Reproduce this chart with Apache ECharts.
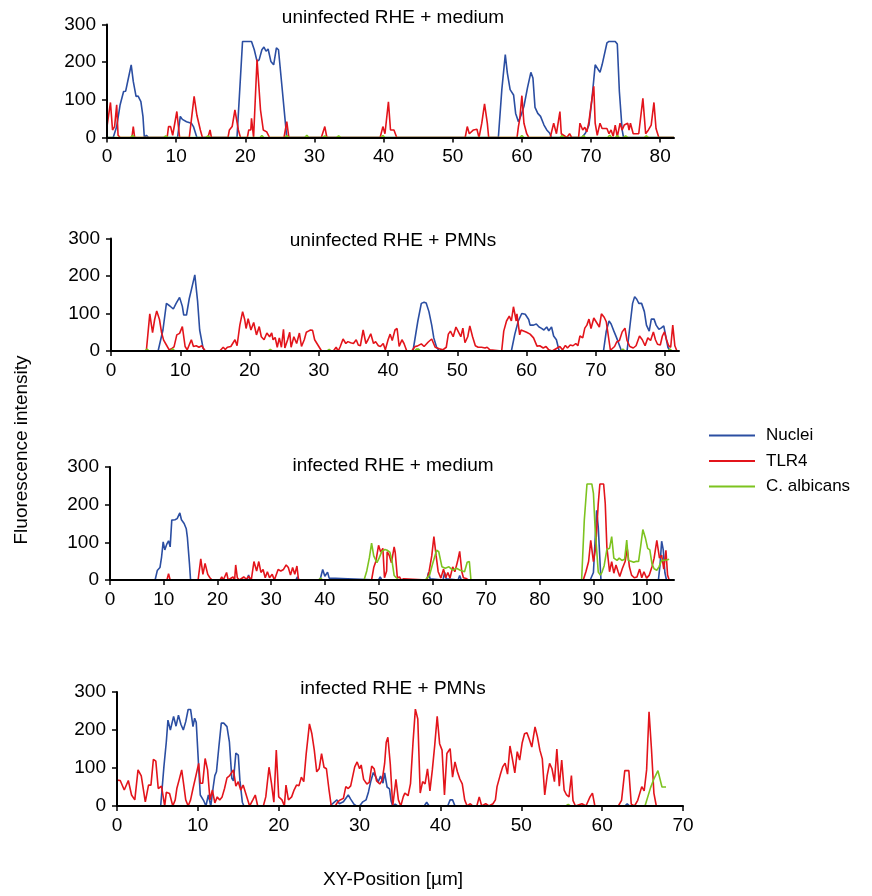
<!DOCTYPE html>
<html>
<head>
<meta charset="utf-8">
<script src="https://cdn.jsdelivr.net/npm/echarts@6/dist/echarts.min.js"></script>
<style>
html,body{margin:0;padding:0;background:#fff;}
#chart{width:872px;height:896px;}
</style>
</head>
<body>
<div id="chart"></div>
<script>
// ---------------- DATA ----------------
const panelTitles = ['uninfected RHE + medium', 'uninfected RHE + PMNs', 'infected RHE + medium', 'infected RHE + PMNs'];
const seriesNames = ['Nuclei', 'TLR4', 'C. albicans'];
const xMaxes = [82, 82, 105, 70];
const xTicks1 = [0, 10, 20, 30, 40, 50, 60, 70, 80];
const xTicks2 = [0, 10, 20, 30, 40, 50, 60, 70, 80];
const xTicks3 = [0, 10, 20, 30, 40, 50, 60, 70, 80, 90, 100];
const xTicks4 = [0, 10, 20, 30, 40, 50, 60, 70];
const yTicks = [0, 100, 200, 300];

// Panel 1: uninfected RHE + medium
const nuclei1 = [[0,0],[0.9,0],[1.4,29],[1.9,87],[2.4,122],[2.7,123],[3.1,158],[3.5,193],[3.8,149],[4.2,109],[4.5,110],[4.9,95],[5.2,56],[5.4,0],[5.7,6],[6.0,0],[10.2,0],[10.6,56],[10.9,48],[11.5,42],[12.2,38],[12.5,29],[13.0,0],[18.8,0],[19.2,127],[19.6,255],[20.9,255],[21.3,233],[21.7,202],[22.0,206],[22.4,233],[22.7,240],[23.0,229],[23.3,235],[23.7,202],[24.1,193],[24.5,238],[24.8,233],[25.0,238],[25.3,136],[25.8,38],[26.0,0],[56.6,0],[57.1,127],[57.6,220],[57.9,171],[58.3,127],[58.5,128],[58.8,113],[59.1,64],[59.5,42],[59.9,60],[60.3,83],[60.8,131],[61.3,173],[61.6,158],[61.9,80],[62.3,64],[62.7,56],[63.2,33],[63.6,20],[64.0,12],[64.3,0],[68.7,0],[69.2,12],[69.7,33],[70.1,96],[70.6,193],[70.8,193],[71.3,173],[71.6,193],[71.8,198],[72.3,251],[72.6,255],[73.5,255],[73.8,248],[74.1,122],[74.5,20],[74.7,0],[82,0]];
const tlr4_1 = [[0,29],[0.5,93],[0.8,20],[1.1,29],[1.4,87],[1.6,6],[1.9,0],[3.6,0],[3.8,29],[4.0,0],[8.7,0],[8.9,29],[9.2,29],[9.5,6],[10.1,69],[10.5,0],[11.9,0],[12.6,109],[13.0,59],[13.5,20],[13.8,0],[14.6,0],[14.9,20],[15.1,0],[17.5,0],[17.7,20],[18.1,29],[18.5,73],[19.0,20],[19.3,0],[20.3,0],[20.5,20],[20.8,20],[20.9,51],[21.2,0],[21.7,207],[21.9,205],[22.2,73],[22.6,20],[23.1,15],[23.5,0],[25.6,0],[26.0,42],[26.3,0],[31.0,0],[31.5,29],[31.8,0],[39.5,0],[39.9,29],[40.2,10],[40.7,95],[41.0,20],[41.5,20],[41.9,0],[46.5,0],[46.6,3],[46.8,0],[51.8,0],[52.1,29],[52.4,10],[53.0,20],[53.5,22],[53.8,0],[54.2,38],[54.6,89],[55.0,38],[55.2,0],[59.3,0],[59.5,29],[59.7,50],[60.0,111],[60.3,38],[60.7,10],[61.0,0],[64.1,0],[64.6,38],[65.0,10],[65.5,69],[65.7,10],[66.5,0],[66.9,10],[67.2,0],[68.2,0],[68.4,38],[68.8,20],[69.1,27],[69.4,15],[69.7,42],[70.0,85],[70.4,136],[70.6,38],[70.9,6],[71.3,38],[71.6,24],[72.3,24],[72.6,10],[72.9,20],[73.2,3],[73.5,33],[73.8,2],[74.2,38],[74.5,20],[74.8,33],[75.3,38],[75.5,20],[75.7,38],[76.1,10],[76.5,10],[76.9,10],[77.5,104],[77.9,10],[78.3,20],[78.7,33],[79.1,93],[79.4,24],[79.8,0],[82,0]];
const calb1 = [[0,0],[3.4,0],[3.7,6],[4.0,0],[8.2,0],[8.5,4],[8.8,0],[14.3,0],[14.6,4],[14.9,0],[22.1,0],[22.4,5],[22.7,0],[25.7,0],[26.0,5],[26.3,0],[28.6,0],[28.9,6],[29.2,0],[31.2,0],[31.5,4],[31.8,0],[33.2,0],[33.5,4],[33.8,0],[39.6,0],[39.9,5],[40.2,0],[59.7,0],[60.0,5],[60.3,0],[65.5,0],[65.8,5],[66.1,0],[68.6,0],[68.9,5],[69.2,0],[72.4,0],[72.7,6],[73.0,0],[73.5,0],[73.8,5],[74.1,0],[74.7,0],[75.0,4],[75.3,0],[77.7,0],[78.0,4],[78.3,0],[82,0]];

// Panel 2: uninfected RHE + PMNs
const nuclei2 = [[0,0],[6.8,0],[7.5,56],[8.0,127],[8.5,120],[9.0,112],[9.4,127],[9.9,143],[10.3,119],[10.5,96],[10.9,96],[11.3,140],[11.6,163],[12.1,203],[12.5,133],[12.8,56],[13.3,7],[13.6,0],[43.6,0],[44.0,46],[44.3,80],[44.8,127],[45.2,130],[45.5,128],[45.9,105],[46.3,69],[46.6,35],[47.0,10],[47.4,0],[57.8,0],[58.3,45],[58.8,80],[59.3,100],[59.8,98],[60.3,84],[60.5,69],[60.7,73],[61.0,69],[61.4,72],[61.8,64],[62.1,61],[62.5,56],[62.9,64],[63.2,54],[63.6,64],[63.9,40],[64.3,30],[64.7,0],[71.1,0],[71.5,53],[71.9,80],[72.2,72],[72.6,53],[73.0,35],[73.5,10],[73.7,0],[74.5,0],[75.0,80],[75.3,127],[75.6,145],[75.9,138],[76.2,127],[76.6,127],[77.0,105],[77.3,69],[77.7,53],[78.0,85],[78.4,85],[78.7,69],[79.1,58],[79.4,61],[79.8,67],[80.1,38],[80.4,10],[80.7,0],[82,0]];
const tlr4_2 = [[0,0],[1.4,0],[1.6,3],[1.8,0],[5.1,0],[5.6,99],[6.0,49],[6.3,84],[6.6,107],[7.0,84],[7.3,49],[7.6,29],[8.0,16],[8.4,3],[8.8,7],[9.1,11],[9.5,43],[9.9,47],[10.3,65],[10.7,12],[11.0,3],[11.6,30],[11.9,12],[12.3,14],[12.7,10],[13.1,14],[13.6,0],[15.7,0],[16.2,10],[16.5,4],[16.8,10],[17.3,12],[17.9,30],[18.2,14],[18.6,69],[19.0,105],[19.3,84],[19.5,60],[19.8,86],[20.2,56],[20.6,76],[21.0,43],[21.4,65],[21.7,38],[22.1,30],[22.5,48],[22.9,38],[23.2,48],[23.4,30],[23.7,36],[24.0,10],[24.3,35],[24.6,10],[24.9,58],[25.1,8],[25.5,30],[25.8,50],[26.0,10],[26.4,38],[26.8,20],[27.2,48],[27.5,12],[27.9,30],[28.2,50],[28.5,53],[28.8,56],[29.1,55],[29.4,30],[30.4,0],[32.1,0],[32.5,10],[32.8,0],[33.1,12],[33.5,32],[33.9,20],[34.2,25],[34.6,22],[35.0,20],[35.4,30],[35.7,16],[36.0,14],[36.4,56],[36.8,20],[37.1,30],[37.5,46],[37.9,20],[38.2,25],[38.6,14],[38.9,12],[39.3,20],[39.6,3],[40.0,30],[40.3,45],[40.6,28],[41.0,56],[41.3,60],[41.6,12],[42.0,30],[42.3,20],[42.7,0],[43.4,0],[43.9,12],[44.2,13],[44.8,19],[45.2,12],[45.8,24],[46.3,32],[46.8,10],[47.4,6],[47.9,3],[48.4,10],[48.7,45],[49.0,53],[49.4,38],[49.8,64],[50.1,53],[50.5,38],[50.8,61],[51.1,22],[51.5,38],[51.8,67],[52.2,38],[52.6,14],[53.0,10],[53.5,10],[54.0,8],[54.3,10],[54.7,3],[56.4,0],[56.7,53],[57.1,80],[57.5,93],[57.8,80],[58.1,118],[58.5,80],[58.6,99],[59.0,43],[59.2,56],[59.4,54],[60.0,50],[60.5,45],[61.0,35],[61.5,13],[61.9,14],[62.4,8],[62.8,12],[63.2,3],[63.7,0],[64.8,12],[65.2,3],[65.6,15],[65.9,8],[66.3,16],[66.7,14],[67.1,20],[67.4,14],[67.7,40],[68.1,35],[68.4,61],[68.7,69],[69.0,85],[69.3,60],[69.7,88],[70.1,76],[70.5,64],[70.8,99],[71.2,90],[71.5,78],[71.8,40],[72.1,2],[72.7,12],[73.0,24],[73.4,28],[73.8,51],[74.2,61],[74.5,28],[74.9,12],[75.4,8],[75.8,14],[76.3,40],[76.7,30],[77.1,14],[77.5,35],[77.9,28],[78.3,51],[78.6,30],[78.9,18],[79.3,16],[79.6,40],[79.9,51],[80.2,30],[80.5,14],[80.8,10],[81.1,69],[81.4,14],[81.7,0]];
const calb2 = [[0,0],[4.9,0],[5.2,5],[5.5,0],[8.6,0],[8.9,6],[9.2,0],[22.7,0],[23.0,4],[23.3,0],[31.2,0],[31.5,4],[31.8,0],[43.8,0],[44.1,5],[44.4,5],[44.7,0],[73.6,0],[73.9,5],[74.2,0],[80.4,0],[80.7,5],[81.0,0],[82,0]];

// Panel 3: infected RHE + medium
const nuclei3 = [[0,0],[8.4,0],[8.8,25],[9.3,33],[9.6,61],[9.9,101],[10.2,80],[10.6,96],[10.9,104],[11.2,88],[11.5,159],[11.8,155],[12.1,160],[12.5,163],[13.0,178],[13.3,160],[13.8,150],[14.2,136],[14.4,114],[14.8,42],[15.0,0],[25.5,0],[25.8,13],[26.1,0],[34.6,0],[34.9,8],[35.2,0],[39.1,0],[39.6,28],[40.0,10],[40.5,21],[40.8,5],[41.0,0],[50.0,0],[50.3,8],[50.6,0],[59.0,0],[59.3,20],[59.6,3],[62.0,0],[62.3,20],[62.6,3],[64.8,0],[65.1,12],[65.4,0],[89.4,0],[90.0,20],[90.6,185],[90.9,140],[91.4,0],[102.1,0],[102.4,40],[102.7,103],[103.0,80],[103.3,20],[103.6,0],[104.1,0]];
const tlr4_3 = [[0,0],[10.6,0],[10.9,17],[11.2,0],[16.4,0],[16.9,56],[17.3,15],[17.7,44],[18.2,15],[18.6,6],[19.0,0],[20.5,0],[20.8,8],[21.1,0],[21.7,20],[22.0,0],[22.9,8],[23.2,0],[23.4,40],[23.7,6],[24.1,0],[24.9,8],[25.4,2],[25.8,10],[26.3,0],[26.8,49],[27.3,24],[27.7,49],[28.1,20],[28.5,28],[28.9,6],[29.3,22],[29.7,6],[30.2,15],[30.6,0],[31.3,28],[31.8,24],[32.3,28],[32.8,40],[33.2,33],[33.6,13],[34.0,33],[34.4,15],[34.8,37],[35.1,0],[48.7,0],[49.1,33],[49.5,50],[50.0,92],[50.4,74],[50.8,84],[51.1,6],[51.5,24],[51.6,75],[52.0,65],[52.4,46],[52.9,88],[53.1,73],[53.5,6],[53.9,8],[54.2,0],[54.6,3],[54.9,0],[59.0,0],[59.4,22],[59.9,64],[60.3,115],[60.7,66],[61.1,22],[61.6,5],[62.1,29],[62.5,6],[62.9,20],[63.3,5],[63.8,35],[64.2,22],[64.7,49],[65.1,76],[65.5,22],[65.8,6],[66.3,4],[66.7,0],[88.1,0],[88.6,22],[89.1,49],[89.5,105],[90.0,49],[90.4,84],[90.9,203],[91.2,255],[91.9,255],[92.2,203],[92.5,88],[93.0,22],[93.4,49],[93.8,18],[94.2,40],[94.6,22],[94.9,9],[95.4,31],[95.9,49],[96.3,83],[96.7,35],[97.1,13],[97.6,6],[98.1,8],[98.6,29],[99.0,6],[99.4,22],[99.9,5],[100.4,13],[100.9,35],[101.3,58],[101.8,105],[102.3,58],[102.7,66],[103.1,29],[103.5,79],[103.8,13],[104.1,0]];
const calb3 = [[0,0],[38.8,0],[39.2,5],[39.6,0],[47.3,0],[47.8,24],[48.3,60],[48.7,98],[49.1,64],[49.7,46],[50.1,58],[50.6,76],[51.2,81],[51.6,79],[52.1,74],[52.5,51],[52.9,12],[53.3,6],[53.8,0],[58.7,0],[59.5,13],[60.0,40],[60.8,79],[61.2,75],[61.8,35],[62.4,31],[63.1,35],[63.8,26],[64.5,31],[65.2,26],[66.0,22],[66.5,47],[66.9,49],[67.2,0],[87.8,0],[88.3,159],[88.8,255],[89.7,255],[90.0,230],[90.3,141],[90.9,21],[91.3,13],[91.6,21],[92.0,38],[92.5,81],[93.0,84],[93.4,115],[93.8,58],[94.4,52],[94.8,58],[95.3,52],[95.8,55],[96.2,106],[96.5,52],[97.0,50],[97.5,47],[98.0,50],[98.4,49],[98.8,90],[99.2,134],[99.7,110],[100.1,84],[100.5,80],[100.9,43],[101.3,30],[101.8,26],[102.2,35],[102.7,52],[103.1,52],[103.6,53],[104.1,55]];

// Panel 4: infected RHE + PMNs
const nuclei4 = [[0,0],[5.4,0],[5.8,103],[6.1,169],[6.3,226],[6.6,200],[7.0,236],[7.3,210],[7.6,239],[7.9,215],[8.2,200],[8.5,222],[8.8,254],[9.1,254],[9.4,209],[9.6,231],[9.8,220],[10.1,103],[10.3,29],[10.7,15],[11.0,0],[11.3,29],[11.6,0],[11.9,50],[12.1,80],[12.3,90],[12.6,156],[12.9,218],[13.2,218],[13.6,209],[13.9,169],[14.2,73],[14.4,66],[14.7,139],[15.0,134],[15.2,68],[15.5,10],[15.7,0],[26.3,0],[26.7,7],[27.2,16],[27.5,6],[28.0,11],[28.6,29],[28.9,18],[29.3,5],[29.6,0],[30.0,0],[30.4,11],[30.8,16],[31.1,37],[31.4,66],[31.7,88],[32.0,77],[32.3,63],[32.6,79],[32.9,60],[33.1,87],[33.4,50],[33.7,45],[33.9,13],[34.1,0],[34.4,5],[34.7,0],[38.0,0],[38.3,10],[38.6,0],[40.9,0],[41.2,16],[41.5,16],[41.8,0],[62.8,0],[63.1,6],[63.4,0],[70,0]];
const tlr4_4 = [[0,68],[0.4,67],[0.9,42],[1.4,67],[1.8,29],[2.2,16],[2.6,95],[3.0,79],[3.5,11],[3.9,55],[4.2,55],[4.5,123],[4.8,118],[5.1,46],[5.5,52],[5.9,0],[6.1,36],[6.5,33],[6.9,0],[7.2,16],[7.4,46],[7.7,70],[8.0,95],[8.2,64],[8.5,16],[8.8,0],[9.1,16],[9.4,46],[9.7,74],[10.1,112],[10.3,60],[10.6,60],[10.9,125],[11.2,95],[11.5,16],[11.8,42],[12.1,8],[12.4,24],[12.7,16],[13.0,24],[13.3,46],[13.6,74],[13.9,79],[14.4,95],[14.7,52],[15.0,64],[15.3,42],[15.6,55],[16.4,0],[16.8,16],[17.1,29],[17.4,0],[18.1,0],[18.4,24],[18.8,102],[19.1,60],[19.4,10],[19.7,147],[20.0,24],[20.4,16],[20.7,0],[20.9,55],[21.2,16],[21.6,24],[21.9,42],[22.2,55],[22.5,53],[22.8,76],[23.1,64],[23.4,138],[23.8,216],[24.1,190],[24.4,147],[24.7,90],[25.0,98],[25.3,138],[25.6,102],[25.9,98],[26.2,46],[26.5,0],[27.0,0],[27.3,11],[27.6,16],[28.0,20],[28.3,51],[28.6,46],[28.9,53],[29.4,103],[29.7,116],[30.0,98],[30.2,108],[30.5,70],[30.9,58],[31.2,62],[31.5,105],[31.8,98],[32.1,66],[32.5,58],[32.8,68],[33.1,112],[33.3,168],[33.5,181],[33.8,110],[34.1,0],[34.5,70],[34.8,16],[35.1,0],[35.4,24],[35.6,34],[36.0,27],[36.3,59],[36.6,164],[36.9,255],[37.2,229],[37.5,34],[37.8,64],[38.1,58],[38.4,98],[38.7,40],[39.0,95],[39.3,161],[39.6,236],[39.9,164],[40.2,147],[40.5,29],[40.8,138],[41.2,151],[41.5,76],[41.8,116],[42.1,90],[42.4,71],[42.7,58],[43.0,16],[43.3,0],[43.7,6],[44.0,0],[44.5,0],[44.8,24],[45.1,0],[45.6,6],[46.0,0],[46.5,6],[46.8,16],[47.0,51],[47.4,82],[47.7,103],[48.0,113],[48.3,84],[48.6,158],[48.9,124],[49.2,87],[49.5,143],[49.8,121],[50.1,165],[50.4,190],[50.7,193],[51.0,175],[51.3,155],[51.5,182],[51.7,208],[52.0,182],[52.3,147],[52.6,124],[52.9,29],[53.2,80],[53.5,112],[53.8,98],[54.1,64],[54.4,150],[54.7,52],[55.0,121],[55.3,42],[55.6,29],[55.9,24],[56.2,80],[56.4,14],[56.7,0],[57.5,6],[58.0,0],[58.5,24],[58.8,34],[59.1,0],[62.0,0],[62.4,15],[62.8,93],[63.3,93],[63.6,5],[64.0,0],[64.4,15],[64.9,51],[65.2,40],[65.5,95],[65.8,248],[66.1,150],[66.4,34],[66.7,0],[67.2,0]];
const calb4 = [[0,0],[55.5,0],[55.8,4],[56.1,0],[65.3,0],[66.0,49],[66.4,71],[66.9,93],[67.1,93],[67.4,50],[67.9,50]];

// ---------------- CHART ----------------
const FONT = '"Liberation Sans", Arial, sans-serif';
const colors = ['#2B4EA2', '#E3141B', '#7DC31F'];
const panelData = [
  [nuclei1, tlr4_1, calb1],
  [nuclei2, tlr4_2, calb2],
  [nuclei3, tlr4_3, calb3],
  [nuclei4, tlr4_4, calb4]
];
const xTickSets = [xTicks1, xTicks2, xTicks3, xTicks4];
const gridBoxes = [
  {left: 107, top: 24.5, width: 567, height: 113},
  {left: 111, top: 238.5, width: 568, height: 112.5},
  {left: 110, top: 467, width: 564, height: 113},
  {left: 117, top: 692, width: 566, height: 114}
];
const titleY = [18, 241, 466, 689];

const chart = echarts.init(document.getElementById('chart'), null, {renderer: 'canvas'});

const axisLineStyle = {color: '#000', width: 2};
const tickLineStyle = {color: '#000', width: 1.5};
const labelStyle = {color: '#000', fontSize: 19, fontFamily: FONT};

const xAxes = [], yAxes = [], series = [], graphics = [];
gridBoxes.forEach((g, i) => {
  xAxes.push({
    gridIndex: i, type: 'value', min: 0, max: xMaxes[i], interval: 10, z: 5,
    axisLine: {show: true, onZero: false, lineStyle: axisLineStyle},
    axisTick: {show: true, length: 5, lineStyle: tickLineStyle, customValues: xTickSets[i]},
    axisLabel: Object.assign({margin: 10, customValues: xTickSets[i]}, labelStyle),
    splitLine: {show: false}
  });
  yAxes.push({
    gridIndex: i, type: 'value', min: 0, max: 300, interval: 100, z: 5,
    axisLine: {show: true, lineStyle: axisLineStyle},
    axisTick: {show: true, length: 5, lineStyle: tickLineStyle, customValues: yTicks},
    axisLabel: Object.assign({margin: 11, customValues: yTicks}, labelStyle),
    splitLine: {show: false}
  });
  panelData[i].forEach((d, k) => {
    series.push({
      name: seriesNames[k], type: 'line', xAxisIndex: i, yAxisIndex: i,
      data: d, symbol: 'none', showSymbol: false, animation: false,
      lineStyle: {color: colors[k], width: 1.6}, itemStyle: {color: colors[k]},
      z: 2 + k
    });
  });
  graphics.push({
    type: 'text', x: 393, y: titleY[i],
    style: {text: panelTitles[i], fill: '#000', font: '19px ' + FONT,
      textAlign: 'center', textVerticalAlign: 'middle', align: 'center', verticalAlign: 'middle'}
  });
});

graphics.push({
  type: 'text', x: 22, y: 450, rotation: Math.PI / 2,
  style: {text: 'Fluorescence intensity', fill: '#000', font: '19px ' + FONT,
    textAlign: 'center', textVerticalAlign: 'middle', align: 'center', verticalAlign: 'middle'}
});
graphics.push({
  type: 'text', x: 393, y: 880,
  style: {text: 'XY-Position [µm]', fill: '#000', font: '19px ' + FONT,
    textAlign: 'center', textVerticalAlign: 'middle', align: 'center', verticalAlign: 'middle'}
});

chart.setOption({
  animation: false,
  backgroundColor: '#fff',
  grid: gridBoxes.map(g => Object.assign({containLabel: false}, g)),
  xAxis: xAxes,
  yAxis: yAxes,
  legend: {
    data: seriesNames, orient: 'vertical', left: 709, top: 427, padding: 0,
    icon: 'rect', itemWidth: 46, itemHeight: 2, itemGap: 8.5,
    textStyle: {color: '#000', fontSize: 17, lineHeight: 17, fontFamily: FONT, padding: [0, 0, 0, 6]},
    selectedMode: false
  },
  graphic: graphics,
  series: series
});
</script>
</body>
</html>
